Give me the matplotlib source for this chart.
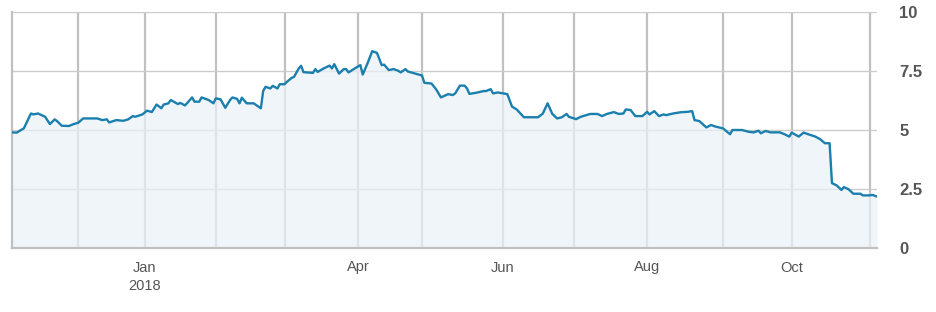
import pandas as pd
import matplotlib
matplotlib.use("Agg")
import matplotlib.pyplot as plt

# daily series (Nov 2017 - Nov 2018)
dates = [
    "2017-11-06", "2017-11-08", "2017-11-11", "2017-11-12", "2017-11-14", "2017-11-15",
    "2017-11-17", "2017-11-20", "2017-11-22", "2017-11-24", "2017-11-25", "2017-11-27",
    "2017-11-30", "2017-12-02", "2017-12-04", "2017-12-06", "2017-12-12", "2017-12-14",
    "2017-12-16", "2017-12-17", "2017-12-20", "2017-12-23", "2017-12-25", "2017-12-27",
    "2017-12-28", "2017-12-31", "2018-01-02", "2018-01-04", "2018-01-06", "2018-01-08",
    "2018-01-09", "2018-01-11", "2018-01-12", "2018-01-15", "2018-01-16", "2018-01-18",
    "2018-01-21", "2018-01-22", "2018-01-24", "2018-01-25", "2018-01-28", "2018-01-30",
    "2018-01-31", "2018-02-02", "2018-02-04", "2018-02-06", "2018-02-07", "2018-02-09",
    "2018-02-10", "2018-02-11", "2018-02-13", "2018-02-16", "2018-02-17", "2018-02-19",
    "2018-02-20", "2018-02-21", "2018-02-23", "2018-02-24", "2018-02-26", "2018-02-27",
    "2018-03-01", "2018-03-02", "2018-03-04", "2018-03-05", "2018-03-07", "2018-03-08",
    "2018-03-09", "2018-03-13", "2018-03-14", "2018-03-15", "2018-03-17", "2018-03-20",
    "2018-03-21", "2018-03-22", "2018-03-24", "2018-03-26", "2018-03-27", "2018-03-28",
    "2018-03-31", "2018-04-02", "2018-04-03", "2018-04-05", "2018-04-07", "2018-04-09",
    "2018-04-11", "2018-04-12", "2018-04-14", "2018-04-16", "2018-04-18", "2018-04-19",
    "2018-04-21", "2018-04-22", "2018-04-28", "2018-04-29", "2018-05-02", "2018-05-04",
    "2018-05-06", "2018-05-09", "2018-05-11", "2018-05-12", "2018-05-14", "2018-05-16",
    "2018-05-17", "2018-05-18", "2018-05-21", "2018-05-24", "2018-05-25", "2018-05-27",
    "2018-05-28", "2018-05-30", "2018-06-03", "2018-06-05", "2018-06-07", "2018-06-10",
    "2018-06-13", "2018-06-16", "2018-06-18", "2018-06-20", "2018-06-22", "2018-06-24",
    "2018-06-26", "2018-06-28", "2018-06-29", "2018-07-02", "2018-07-04", "2018-07-08",
    "2018-07-11", "2018-07-13", "2018-07-15", "2018-07-18", "2018-07-20", "2018-07-22",
    "2018-07-23", "2018-07-25", "2018-07-27", "2018-07-30", "2018-08-01", "2018-08-02",
    "2018-08-04", "2018-08-06", "2018-08-08", "2018-08-09", "2018-08-12", "2018-08-15",
    "2018-08-18", "2018-08-20", "2018-08-21", "2018-08-23", "2018-08-26", "2018-08-28",
    "2018-08-30", "2018-09-02", "2018-09-05", "2018-09-06", "2018-09-10", "2018-09-13",
    "2018-09-15", "2018-09-17", "2018-09-18", "2018-09-20", "2018-09-22", "2018-09-26",
    "2018-09-28", "2018-09-30", "2018-10-01", "2018-10-04", "2018-10-06", "2018-10-08",
    "2018-10-11", "2018-10-13", "2018-10-15", "2018-10-17", "2018-10-18", "2018-10-20",
    "2018-10-22", "2018-10-23", "2018-10-25", "2018-10-27", "2018-10-30", "2018-10-31",
    "2018-11-03", "2018-11-04", "2018-11-06",
]
values = [
    4.90, 4.89, 5.07, 5.28, 5.70, 5.66,
    5.70, 5.56, 5.25, 5.45, 5.38, 5.18,
    5.17, 5.25, 5.31, 5.49, 5.49, 5.42,
    5.45, 5.32, 5.42, 5.39, 5.45, 5.59,
    5.56, 5.66, 5.82, 5.76, 6.08, 5.92,
    6.08, 6.13, 6.27, 6.10, 6.15, 6.04,
    6.38, 6.20, 6.20, 6.38, 6.27, 6.13,
    6.34, 6.30, 5.94, 6.27, 6.38, 6.32,
    6.13, 6.37, 6.13, 6.13, 6.06, 5.92,
    6.66, 6.83, 6.76, 6.87, 6.76, 6.94,
    6.94, 7.04, 7.21, 7.25, 7.61, 7.72,
    7.45, 7.42, 7.58, 7.46, 7.58, 7.73,
    7.61, 7.79, 7.39, 7.58, 7.58, 7.44,
    7.63, 7.75, 7.35, 7.82, 8.34, 8.27,
    7.75, 7.77, 7.54, 7.58, 7.51, 7.44,
    7.58, 7.48, 7.31, 7.00, 6.97, 6.72,
    6.38, 6.52, 6.48, 6.55, 6.88, 6.88,
    6.76, 6.53, 6.58, 6.65, 6.65, 6.73,
    6.55, 6.59, 6.52, 5.99, 5.87, 5.54,
    5.54, 5.54, 5.70, 6.13, 5.68, 5.49,
    5.54, 5.68, 5.56, 5.46, 5.56, 5.68,
    5.68, 5.59, 5.68, 5.76, 5.68, 5.70,
    5.87, 5.85, 5.59, 5.59, 5.77, 5.66,
    5.80, 5.59, 5.66, 5.63, 5.70, 5.75,
    5.77, 5.80, 5.42, 5.38, 5.11, 5.21,
    5.14, 5.07, 4.82, 5.00, 5.00, 4.92,
    4.90, 4.97, 4.86, 4.96, 4.90, 4.90,
    4.82, 4.72, 4.89, 4.72, 4.89, 4.82,
    4.72, 4.61, 4.44, 4.44, 2.75, 2.65,
    2.46, 2.58, 2.49, 2.30, 2.30, 2.23,
    2.23, 2.25, 2.18,
]

label_dates = ["2018-01-01", "2018-04-01", "2018-06-01", "2018-08-01", "2018-10-01"]
label_text = ["Jan\n2018", "Apr", "Jun", "Aug", "Oct"]
other_grid_dates = ["2017-12-04", "2018-01-31", "2018-03-01", "2018-04-28",
                    "2018-07-01", "2018-09-02", "2018-11-03"]
y_ticks = [0, 2.5, 5, 7.5, 10]
y_labels = ["0", "2.5", "5", "7.5", "10"]

x = pd.to_datetime(dates)

plt.rcParams['font.family'] = ['Liberation Sans', 'DejaVu Sans']

fig = plt.figure(figsize=(9.37, 3.12), dpi=100)
ax = fig.add_axes([12 / 937, 64 / 312, 865 / 937, 236 / 312])
ax.set_axisbelow(True)

line_clr = "#1b7fae"
ax.fill_between(x, 0, values, color=(235 / 255, 242 / 255, 248 / 255), alpha=0.7,
                linewidth=0, zorder=1)
ax.plot(x, values, color=line_clr, linewidth=1.7, zorder=3)

ax.set_xlim(pd.Timestamp("2017-11-06"), pd.Timestamp("2018-11-06"))
ax.set_ylim(0, 10)

ax.set_xticks(pd.to_datetime(label_dates))
ax.set_xticklabels(label_text)
ax.set_xticks(pd.to_datetime(other_grid_dates), minor=True)
ax.xaxis.grid(True, which="both", color="#c0c0c0", linewidth=1.6)

ax.yaxis.tick_right()
ax.set_yticks(y_ticks)
ax.set_yticklabels(y_labels)
ax.yaxis.grid(True, color="#cccccc", linewidth=1.0)

ax.tick_params(axis="x", which="both", length=0, pad=9, labelsize=10.5, labelcolor="#555555")
ax.tick_params(axis="y", length=0, pad=16, labelsize=12, labelcolor="#555555")
for t in ax.get_xticklabels():
    t.set_linespacing(1.45)
for t in ax.get_yticklabels():
    t.set_fontweight("bold")

for s in ["top", "right"]:
    ax.spines[s].set_visible(False)
ax.spines["left"].set_color("#c0c0c0")
ax.spines["left"].set_linewidth(1.6)
ax.spines["bottom"].set_color("#c0c0c0")
ax.spines["bottom"].set_linewidth(1.6)

fig.savefig("out.png", dpi=100)
